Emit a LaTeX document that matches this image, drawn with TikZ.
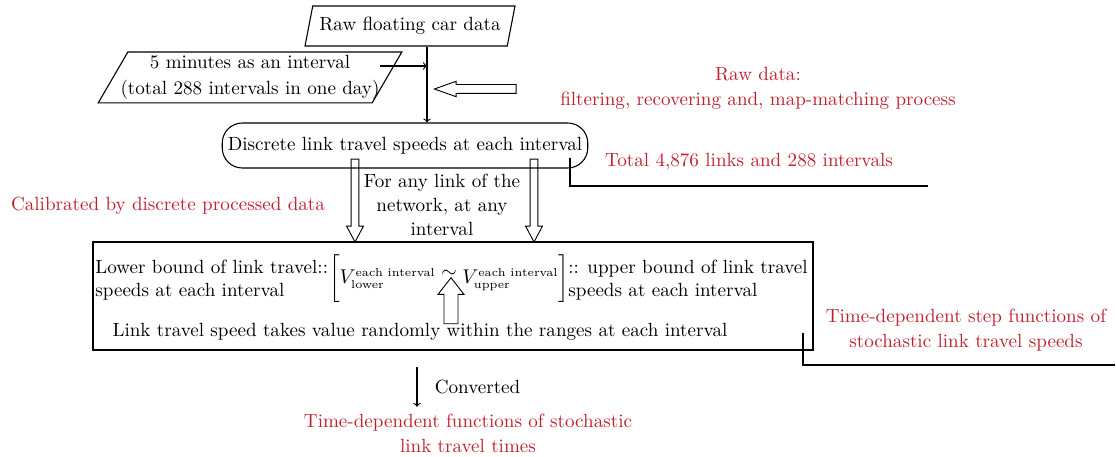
\documentclass[tikz,border=0pt]{standalone}
\usepackage{amsmath}
\usetikzlibrary{positioning,shapes.geometric,shapes.arrows}
\definecolor{notered}{RGB}{192,32,46}
\newcommand\boundlabel[1]{\text{\fontsize{6.4pt}{7pt}\selectfont #1}}

\begin{document}
\fontsize{10.5pt}{12.6pt}\selectfont
\begin{tikzpicture}[x=0.55pt, y=-0.55pt, line width=0.6pt,
    slanted/.style={trapezium, draw, trapezium stretches body=true, inner xsep=-12pt, inner ysep=0pt, align=center},
    note/.style={text=notered, align=center},
    hollow/.style={single arrow, draw, anchor=tip, line width=0.5pt}]
    \useasboundingbox (0,0) rectangle (1116,457);

    % input data
    \node[slanted, trapezium left angle=66, trapezium right angle=114, minimum width=115.5pt, minimum height=22pt] (raw) at (410,26) {Raw floating car data};
    \node[slanted, trapezium left angle=56, trapezium right angle=124, minimum width=167pt, minimum height=28pt] (period) at (250,77.5) {5 minutes as an interval\\[1.7pt](total 288 intervals in one day)};
    \node[draw, rounded corners=11pt, minimum width=201pt, minimum height=24.75pt, inner sep=1pt] (speeds) at (405,145.5) {Discrete link travel speeds at each interval};

    \coordinate (trunk) at (427,66);
    \coordinate (periodout) at (380,66);
    \draw[->] (raw.south -| trunk) -- (speeds.north -| trunk);
    \draw[->] (periodout) -- (trunk);

    \node[hollow, shape border rotate=180, inner sep=2.2pt, single arrow head extend=1.8pt, single arrow tip angle=39, minimum height=45pt] (feed) at (433,89) {};
    \node[note] (rawnote) at (758,88) {Raw data:\\[1.15pt]filtering, recovering and, map-matching process};

    % processed speeds
    \node[note] (total) at (749,162) {Total 4,876 links and 288 intervals};
    \coordinate (totalfoot) at (570,158);
    \coordinate (totalend) at (928,186);
    \draw (totalfoot) |- (totalend);

    \node[hollow, shape border rotate=270, inner sep=1.9pt, single arrow head extend=2.5pt, single arrow tip angle=56, minimum height=45.6pt] (lowarrow) at (355,243) {};
    \node[hollow, shape border rotate=270, inner sep=1.9pt, single arrow head extend=2.5pt, single arrow tip angle=56, minimum height=45.6pt] (uparrow) at (534,243) {};
    \node[align=center] (anylink) at (442,205) {For any link of the\\[0.6pt]network, at any\\[0.6pt]interval};
    \node[note] (calib) at (168,206) {Calibrated by discrete processed data};

    % speed ranges
    \node[draw, minimum width=396pt, minimum height=59.4pt] (range) at (453,296) {};
    \node[align=left, anchor=west, inner sep=1pt] (lowtxt) at (93,280) {Lower bound of link travel::\\speeds at each interval};
    \node[inner sep=0pt] (bounds) at (449,279) {$\biggl[V_{\boundlabel{lower}}^{\boundlabel{each interval}} \mathrel{\raisebox{3.8pt}{$\sim$}} V_{\boundlabel{upper}}^{\boundlabel{each interval}}\biggr]$};
    \node[align=left, anchor=west, inner sep=1pt] (uptxt) at (566,280) {:: upper bound of link travel\\speeds at each interval};
    \node (random) at (420,332) {Link travel speed takes value randomly within the ranges at each interval};
    \node[hollow, shape border rotate=90, inner sep=3.6pt, single arrow head extend=3.3pt, single arrow tip angle=76, minimum height=25.3pt] (pick) at (451,277) {};

    \node[note] (stepnote) at (966,330) {Time-dependent step functions of\\[1.15pt]stochastic link travel speeds};
    \coordinate (rangefoot) at (803,333);
    \coordinate (rangeend) at (1115,365);
    \draw (rangefoot) |- (rangeend);

    % travel times
    \node[note] (timenote) at (468,433) {Time-dependent functions of stochastic\\[1.15pt]link travel times};
    \coordinate (convtop) at (417,367);
    \draw[->] (convtop) -- node[right=6pt] (conv) {Converted} (convtop |- timenote.north);
\end{tikzpicture}
\end{document}
